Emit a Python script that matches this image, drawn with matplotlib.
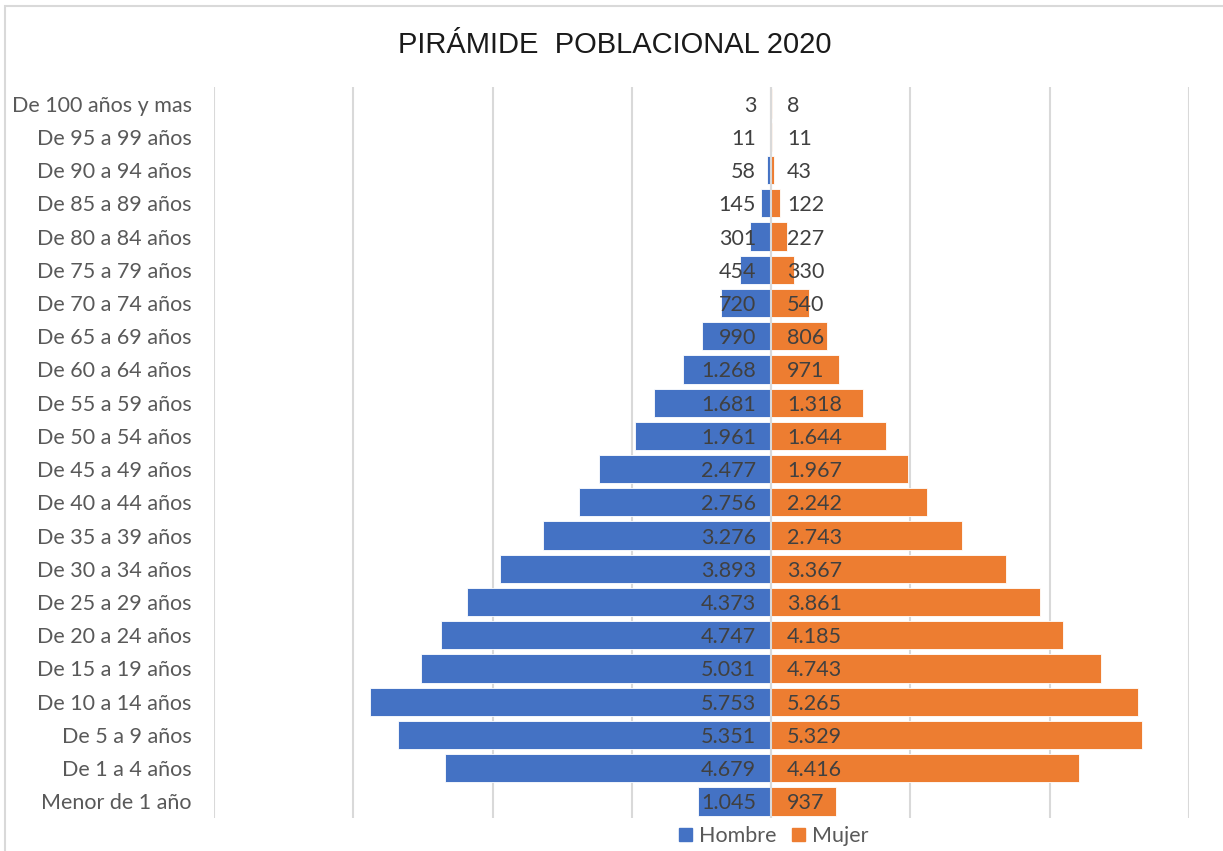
import matplotlib
matplotlib.use("Agg")
import matplotlib.pyplot as plt
from matplotlib.patches import Rectangle, Patch
from matplotlib.ticker import MultipleLocator

categorias = ["Menor de 1 año", "De 1 a 4 años", "De 5 a 9 años", "De 10 a 14 años",
              "De 15 a 19 años", "De 20 a 24 años", "De 25 a 29 años", "De 30 a 34 años",
              "De 35 a 39 años", "De 40 a 44 años", "De 45 a 49 años", "De 50 a 54 años",
              "De 55 a 59 años", "De 60 a 64 años", "De 65 a 69 años", "De 70 a 74 años",
              "De 75 a 79 años", "De 80 a 84 años", "De 85 a 89 años", "De 90 a 94 años",
              "De 95 a 99 años", "De 100 años y mas"]
hombre = [1045, 4679, 5351, 5753, 5031, 4747, 4373, 3893, 3276, 2756, 2477, 1961,
          1681, 1268, 990, 720, 454, 301, 145, 58, 11, 3]
mujer = [937, 4416, 5329, 5265, 4743, 4185, 3861, 3367, 2743, 2242, 1967, 1644,
         1318, 971, 806, 540, 330, 227, 122, 43, 11, 8]

AZUL = "#4472C4"
NARANJA = "#ED7D31"
GRID = "#D9D9D9"
TXT = "#404040"
CAT = "#595959"
FONT = ["Lato", "DejaVu Sans"]
FS = 15.5

def fmt(v):
    return f"{v:,}".replace(",", ".")

fig = plt.figure(figsize=(12.23, 8.51), dpi=100)
fig.patches.append(Rectangle((5/1223, -0.1), 1.2, 1 - 6/851 + 0.1, transform=fig.transFigure,
                             fill=False, edgecolor="#D9D9D9", linewidth=1.5))
ax = fig.add_axes([214/1223, 1 - 818/851, (1189 - 214)/1223, (818 - 87)/851])

y = list(range(len(categorias)))
ax.barh(y, [-h for h in hombre], height=0.85, color=AZUL, edgecolor="white", linewidth=0.6, zorder=3)
ax.barh(y, mujer, height=0.85, color=NARANJA, edgecolor="white", linewidth=0.6, zorder=3)

for i, (h, m) in enumerate(zip(hombre, mujer)):
    ax.annotate(fmt(h), (0, i), xytext=(-15, -2), textcoords="offset pixels",
                ha="right", va="center", fontsize=FS, color=TXT, family=FONT, zorder=5)
    ax.annotate(fmt(m), (0, i), xytext=(16, -2), textcoords="offset pixels",
                ha="left", va="center", fontsize=FS, color=TXT, family=FONT, zorder=5)

ax.set_xlim(-8000, 6000)
ax.set_ylim(-0.5, len(categorias) - 0.5)
ax.xaxis.set_major_locator(MultipleLocator(2000))
ax.grid(axis="x", color=GRID, linewidth=1.5, zorder=0)
ax.set_xticklabels([])
ax.tick_params(axis="x", length=0)
ax.tick_params(axis="y", length=0, pad=16)
ax.set_yticks(y)
ax.set_yticklabels(categorias, fontsize=FS, color=CAT, family=FONT)
for s in ax.spines.values():
    s.set_visible(False)
ax.axvline(0, color=GRID, linewidth=1.5, zorder=4)

fig.text(615/1223, 1 - 45/851, "PIRÁMIDE  POBLACIONAL 2020", ha="center", va="center",
         fontsize=21, color="#1a1a1a", family=["Liberation Sans", "DejaVu Sans"])

handles = [Patch(color=AZUL, label="Hombre"), Patch(color=NARANJA, label="Mujer")]
fig.legend(handles=handles, loc="center", bbox_to_anchor=(774/1223, 1 - 836/851), ncol=2,
           frameon=False, prop={"family": FONT, "size": FS}, labelcolor=CAT,
           handlelength=0.6, handleheight=0.6, handletextpad=0.35, columnspacing=0.7)

fig.savefig("out.png", dpi=100)
